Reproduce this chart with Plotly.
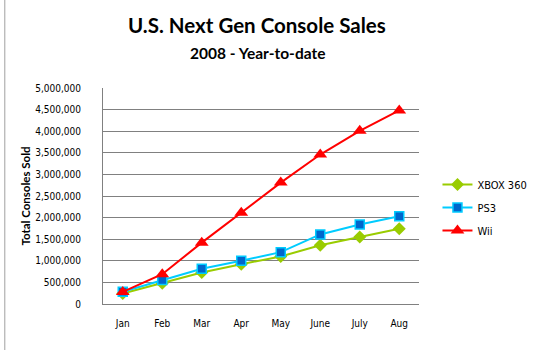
import plotly.graph_objects as go

months = ["Jan", "Feb", "Mar", "Apr", "May", "June", "July", "Aug"]
xbox = [245000, 480000, 730000, 920000, 1100000, 1360000, 1550000, 1740000]
ps3 = [285000, 555000, 815000, 1000000, 1200000, 1610000, 1840000, 2030000]
wii = [280000, 690000, 1420000, 2110000, 2810000, 3460000, 4010000, 4480000]

W, H = 544, 350
L, R, T, B = 103, 428, 88, 304

fig = go.Figure()
fig.add_trace(go.Scatter(x=months, y=xbox, name="XBOX 360", mode="lines+markers",
                         legendgroup="a",
                         line=dict(color="#99CC00", width=2),
                         marker=dict(symbol="diamond", size=10, color="#99CC00")))
fig.add_trace(go.Scatter(x=months, y=ps3, name="PS3", mode="lines+markers",
                         legendgroup="b",
                         line=dict(color="#00CCFF", width=2),
                         marker=dict(symbol="square", size=9, color="#0066CC",
                                     line=dict(color="#00CCFF", width=1.5))))
fig.add_trace(go.Scatter(x=months, y=wii, name="Wii", mode="lines+markers",
                         legendgroup="c",
                         line=dict(color="#FF0000", width=2),
                         marker=dict(symbol="triangle-up", size=12, color="#FF0000")))

tickfont = dict(family="DejaVu Sans Condensed, DejaVu Sans", size=10, color="black")

fig.update_layout(
    width=W, height=H,
    margin=dict(l=L, r=W - R, t=T, b=H - B, pad=0),
    paper_bgcolor="white", plot_bgcolor="white",
    font=tickfont,
    showlegend=True,
    legend=dict(x=(447 - L) / (R - L), y=(B - 170) / (B - T), xanchor="left", yanchor="top",
                font=dict(family="DejaVu Sans Condensed, DejaVu Sans", size=11, color="black"),
                bgcolor="rgba(0,0,0,0)", itemwidth=30, traceorder="grouped", tracegroupgap=4),
    xaxis=dict(type="category", range=[-0.5, 7.5], showgrid=False,
               showline=True, linecolor="#808080", linewidth=1,
               ticks="", ticklabelstandoff=10, tickfont=tickfont, fixedrange=True),
    yaxis=dict(range=[0, 5000000], dtick=500000, tickformat=",d",
               showgrid=True, gridcolor="#808080", gridwidth=1,
               showline=True, linecolor="#808080", linewidth=1,
               zeroline=False, ticks="", ticklabelstandoff=19, tickfont=tickfont,
               title=dict(text="<b>Total Consoles Sold</b>",
                          font=dict(family="Lato", size=11.5, color="black"), standoff=2)),
    annotations=[
        dict(text="<b>U.S. Next Gen Console Sales</b>", xref="paper", yref="paper",
             x=(261 - L) / (R - L), y=(B - 25) / (B - T), showarrow=False,
             font=dict(family="Lato", size=20.5, color="black"), xanchor="center", yanchor="middle"),
        dict(text="<b>2008 - Year-to-date</b>", xref="paper", yref="paper",
             x=(262 - L) / (R - L), y=(B - 53) / (B - T), showarrow=False,
             font=dict(family="Lato", size=15.5, color="black"), xanchor="center", yanchor="middle"),
    ],
    shapes=[dict(type="line", xref="paper", yref="paper",
                 x0=-(L - 2) / (R - L), x1=-(L - 2) / (R - L),
                 y0=-(H - B) / (B - T), y1=1 + T / (B - T),
                 line=dict(color="#A0A0A0", width=1))],
)

fig.write_html("out.html")
